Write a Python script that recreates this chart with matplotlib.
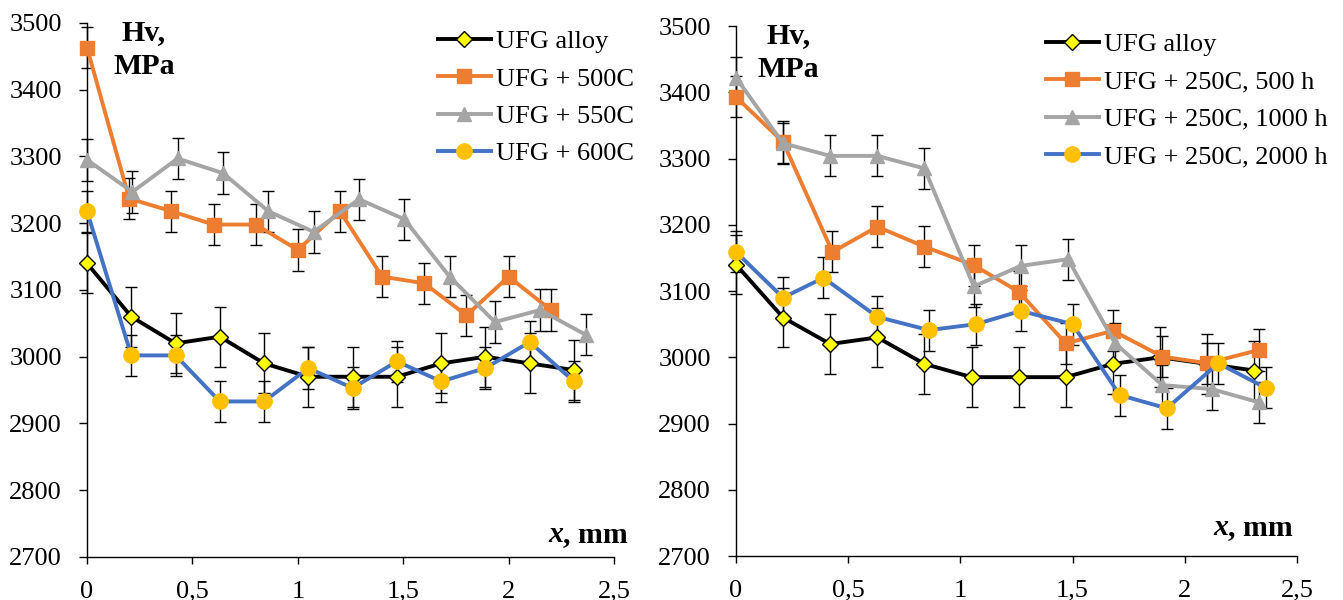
"""Microhardness Hv vs distance x for UFG alloy after annealing / long-term ageing."""

import matplotlib

matplotlib.use("Agg")
import matplotlib.pyplot as plt  # noqa: E402

# --- data ---
x_ufg = [0, 0.21, 0.42, 0.63, 0.84, 1.05, 1.26, 1.47, 1.68, 1.89, 2.1, 2.31]
hv_ufg = [3140, 3060, 3020, 3030, 2990, 2970, 2970, 2970, 2990, 3000, 2990, 2980]
err_ufg = 45

# left panel: annealing temperatures
x_500 = [0, 0.2, 0.4, 0.6, 0.8, 1.0, 1.2, 1.4, 1.6, 1.8, 2.0, 2.2]
hv_500 = [3463, 3237, 3218, 3198, 3198, 3160, 3218, 3120, 3110, 3062, 3120, 3070]
x_550 = [0, 0.215, 0.43, 0.645, 0.86, 1.075, 1.29, 1.505, 1.72, 1.935, 2.15, 2.365]
hv_550 = [3295, 3247, 3297, 3275, 3218, 3187, 3236, 3206, 3120, 3052, 3070, 3033]
x_600 = [0, 0.21, 0.42, 0.63, 0.84, 1.05, 1.26, 1.47, 1.68, 1.89, 2.1, 2.31]
hv_600 = [3218, 3002, 3002, 2933, 2933, 2983, 2953, 2993, 2963, 2983, 3022, 2963]

# right panel: 250C ageing times
x_500h = [0, 0.21, 0.43, 0.63, 0.84, 1.06, 1.26, 1.47, 1.68, 1.90, 2.10, 2.33]
hv_500h = [3393, 3325, 3159, 3197, 3167, 3139, 3099, 3021, 3040, 3001, 2991, 3011]
x_1000h = [0, 0.21, 0.42, 0.63, 0.84, 1.06, 1.27, 1.48, 1.69, 1.90, 2.12, 2.33]
hv_1000h = [3422, 3323, 3304, 3304, 3285, 3107, 3138, 3148, 3021, 2958, 2952, 2932]
x_2000h = [0, 0.21, 0.39, 0.63, 0.86, 1.07, 1.27, 1.50, 1.71, 1.92, 2.15, 2.36]
hv_2000h = [3159, 3090, 3120, 3061, 3041, 3050, 3070, 3050, 2943, 2923, 2991, 2954]
err_treated = 31

left_labels = ["UFG alloy", "UFG + 500C", "UFG + 550C", "UFG + 600C"]
right_labels = ["UFG alloy", "UFG + 250C, 500 h", "UFG + 250C, 1000 h", "UFG + 250C, 2000 h"]

x_ticks = [0, 0.5, 1, 1.5, 2, 2.5]
x_ticklabels = ["0", "0,5", "1", "1,5", "2", "2,5"]
y_ticks = [2700, 2800, 2900, 3000, 3100, 3200, 3300, 3400, 3500]

# --- styles (Excel default palette) ---
STYLES = [
    dict(color="black", marker="D", ms=8, mfc="#FFFF00", mec="black", mew=1.0),
    dict(color="#ED7D31", marker="s", ms=9.5, mfc="#ED7D31", mec="#ED7D31"),
    dict(color="#A5A5A5", marker="^", ms=10.5, mfc="#A5A5A5", mec="#A5A5A5"),
    dict(color="#4472C4", marker="o", ms=11, mfc="#FFC000", mec="#FFC000"),
]

plt.rcParams.update({
    "font.family": ["Liberation Serif", "DejaVu Serif"],
    "font.size": 19,
    "axes.linewidth": 1.0,
})

fig = plt.figure(figsize=(13.43, 6.0), dpi=100)
ax1 = fig.add_axes([0.0648, 0.0717, 0.3924, 0.89])
ax2 = fig.add_axes([0.548, 0.0733, 0.4177, 0.8833])


def draw(ax, series, labels, leg_anchor, hv_x, xlab_pos):
    for (x, y, e), st, lab in zip(series, STYLES, labels):
        ax.errorbar(x, y, yerr=e, fmt="none", ecolor="black", elinewidth=1.0,
                    capsize=4, capthick=1.0, zorder=2, clip_on=False)
        ax.plot(x, y, lw=2.8, label=lab, zorder=3, clip_on=False, **st)

    ax.set_xlim(0, 2.5)
    ax.set_ylim(2700, 3500)
    ax.set_xticks(x_ticks)
    ax.set_xticklabels(x_ticklabels)
    ax.set_yticks(y_ticks)
    ax.tick_params(axis="y", direction="out", length=6, width=1, pad=12)
    ax.tick_params(axis="x", direction="out", length=5, width=1, pad=12)
    for s in ("top", "right"):
        ax.spines[s].set_visible(False)

    ax.legend(loc="upper left", bbox_to_anchor=leg_anchor, frameon=False,
              borderaxespad=0, borderpad=0, handlelength=2.0,
              handletextpad=0.2, labelspacing=0.52, fontsize=19)

    ax.text(hv_x, 1.008, "Hv,\nMPa", transform=ax.transAxes, ha="center",
            va="top", fontsize=21.5, fontweight="bold", linespacing=1.35)

    t = ax.text(xlab_pos[0], xlab_pos[1], ", mm", transform=ax.transAxes,
                ha="right", va="baseline", fontsize=21.5, fontweight="bold")
    ax.annotate("x", xy=(0, 0), xycoords=t, ha="right", va="bottom",
                fontsize=21.5, fontweight="bold", fontstyle="italic")


draw(ax1,
     [(x_ufg, hv_ufg, err_ufg), (x_500, hv_500, err_treated),
      (x_550, hv_550, err_treated), (x_600, hv_600, err_treated)],
     left_labels, (0.666, 0.987), 0.108, (1.027, 0.028))
draw(ax2,
     [(x_ufg, hv_ufg, err_ufg), (x_500h, hv_500h, err_treated),
      (x_1000h, hv_1000h, err_treated), (x_2000h, hv_2000h, err_treated)],
     right_labels, (0.5525, 0.987), 0.093, (0.993, 0.040))

fig.savefig("out.png", dpi=100)
